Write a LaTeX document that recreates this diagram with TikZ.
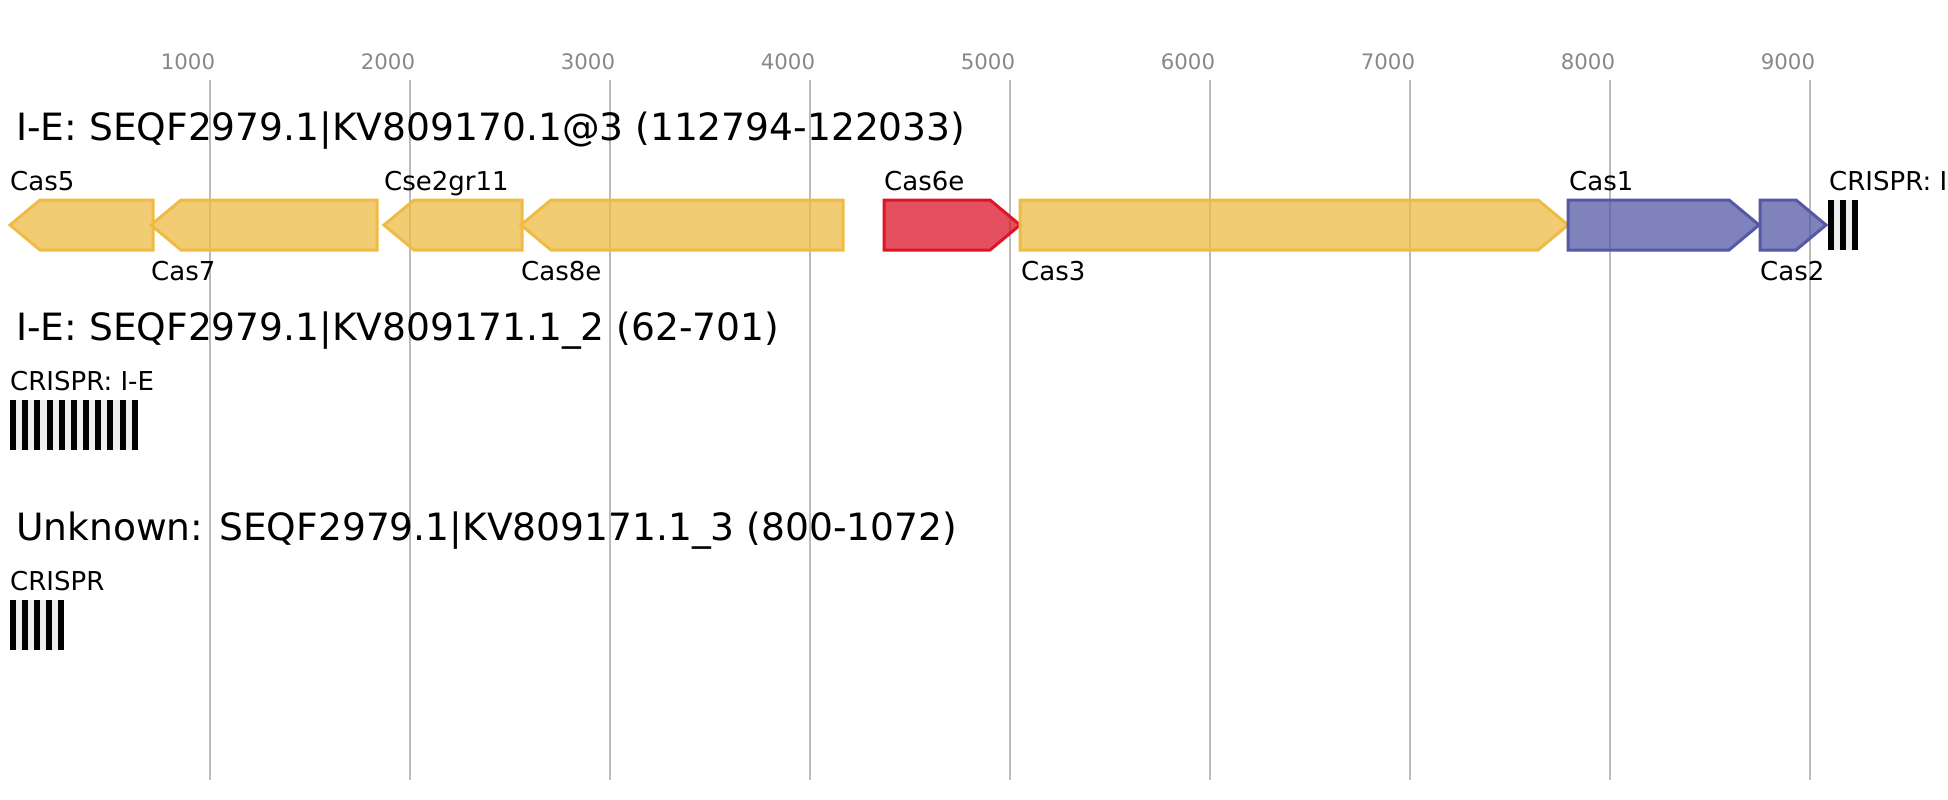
\documentclass[tikz,border=0pt]{standalone}
\usepackage{fontspec}
\setmainfont{DejaVu Sans}
\definecolor{gridc}{HTML}{BBBBBB}
\definecolor{tickc}{HTML}{888888}
\definecolor{yel}{HTML}{EEBB44}
\definecolor{redc}{HTML}{DC1528}
\definecolor{blu}{HTML}{5558A6}
\definecolor{gapc}{HTML}{EEEEEE}
\tikzset{
  gridline/.style={draw=gridc, line width=2pt},
  ticklbl/.style={text=tickc, font=\fontsize{21.3}{24}\selectfont, anchor=base, inner sep=0pt},
  tracktitle/.style={font=\fontsize{37.6}{42}\selectfont, anchor=base west, inner sep=0pt},
  genelbl/.style={font=\fontsize{26}{28}\selectfont, anchor=base west, inner sep=0pt},
  gene/.style={line width=3pt, line join=miter, fill opacity=0.75},
  ygene/.style={gene, draw=yel, fill=yel},
  rgene/.style={gene, draw=redc, fill=redc},
  bgene/.style={gene, draw=blu, fill=blu},
}
\newcommand{\fwdgene}[4]{% style, left, right, ymid
  \path[#1] (#2,#4-25) -- ({#3-30},#4-25) -- (#3,#4) -- ({#3-30},#4+25) -- (#2,#4+25) -- cycle;}
\newcommand{\revgene}[4]{% style, left(tip), right, ymid
  \path[#1] (#2,#4) -- ({#2+30},#4-25) -- (#3,#4-25) -- (#3,#4+25) -- ({#2+30},#4+25) -- cycle;}
\newcommand{\crisprarr}[4]{% left, right, ytop, nblack
  \fill[gapc] (#1,#3) rectangle (#2,#3+50);
  \pgfmathsetmacro{\unitw}{(#2-#1)/(2*#4-1)}
  \foreach \k in {1,...,#4}{
    \fill[black] ({#1+2*(\k-1)*\unitw},#3) rectangle ({#1+(2*\k-1)*\unitw},#3+50);
  }}
\begin{document}
\begin{tikzpicture}[x=1pt,y=-1pt]
\useasboundingbox (0,0) rectangle (1948,800);
\clip (0,0) rectangle (1948,800);
% grid
\foreach \v [count=\i] in {1000,2000,...,9000}{
  \pgfmathsetmacro{\gx}{10+0.2*\v}
  \draw[gridline] (\gx,80) -- (\gx,780);
  \node[ticklbl] (tick\i) at (\gx-22,70) {\v};
}
% track 1
\node[tracktitle] (t1) at (16,140) {I-E: SEQF2979.1|KV809170.1@3 (112794-122033)};
\revgene{ygene}{10}{153}{225}
\revgene{ygene}{151}{377}{225}
\revgene{ygene}{384}{522}{225}
\revgene{ygene}{521}{843}{225}
\fwdgene{rgene}{884}{1020}{225}
\fwdgene{ygene}{1020}{1568}{225}
\fwdgene{bgene}{1568}{1759}{225}
\fwdgene{bgene}{1760}{1826}{225}
\crisprarr{1828}{1858}{200}{3}
\node[genelbl] (l1) at (10,190) {Cas5};
\node[genelbl] (l2) at (151,280) {Cas7};
\node[genelbl] (l3) at (384,190) {Cse2gr11};
\node[genelbl] (l4) at (521,280) {Cas8e};
\node[genelbl] (l5) at (884,190) {Cas6e};
\node[genelbl] (l6) at (1021,280) {Cas3};
\node[genelbl] (l7) at (1569,190) {Cas1};
\node[genelbl] (l8) at (1760,280) {Cas2};
\node[genelbl] (l9) at (1829,190) {CRISPR: I-E};
% track 2
\node[tracktitle] (t2) at (16,340) {I-E: SEQF2979.1|KV809171.1\_2 (62-701)};
\node[genelbl] (l10) at (10,390) {CRISPR: I-E};
\crisprarr{10}{137.8}{400}{11}
% track 3
\node[tracktitle] (t3) at (16,540) {Unknown: SEQF2979.1|KV809171.1\_3 (800-1072)};
\node[genelbl] (l11) at (10,590) {CRISPR};
\crisprarr{10}{64.4}{600}{5}
\end{tikzpicture}
\end{document}
